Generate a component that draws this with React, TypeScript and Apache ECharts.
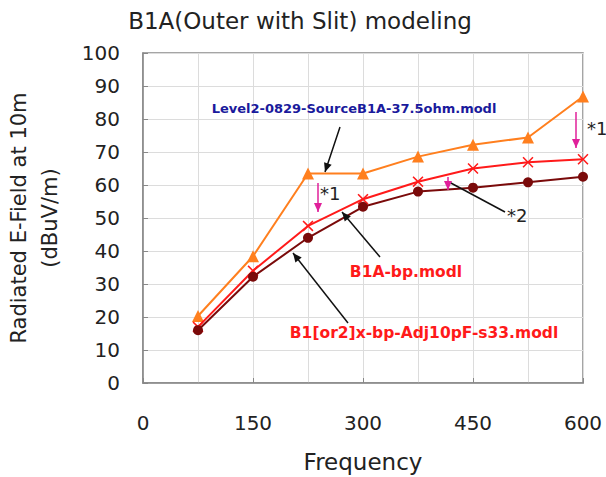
import React, { useEffect, useRef } from "react";
import * as echarts from "echarts";

const frequencies = [75, 150, 225, 300, 375, 450, 525, 600];
const level2Source = [20.3, 38.4, 63.5, 63.5, 68.6, 72.2, 74.4, 86.8];
const b1aBp = [17, 34, 47.6, 55.7, 61, 65, 66.9, 67.8];
const b1or2Adj = [16, 32.2, 44, 53.4, 58, 59.2, 60.8, 62.5];
const xTickLabels = ["0", "150", "300", "450", "600"];

const FONT = "DejaVu Sans";

function arrow(x1: number, y1: number, x2: number, y2: number, color: string, head = true) {
  const els: any[] = [
    {
      type: "line",
      shape: { x1, y1, x2, y2 },
      style: { stroke: color, lineWidth: 1.5 },
      silent: true,
      z: 10,
    },
  ];
  if (head) {
    const ang = Math.atan2(y2 - y1, x2 - x1);
    const L = 9;
    const W = 4;
    const bx = x2 - L * Math.cos(ang);
    const by = y2 - L * Math.sin(ang);
    const px = -Math.sin(ang) * W;
    const py = Math.cos(ang) * W;
    els.push({
      type: "polygon",
      shape: { points: [[x2, y2], [bx + px, by + py], [bx - px, by - py]] },
      style: { fill: color },
      silent: true,
      z: 10,
    });
  }
  return els;
}

const xSymbol = "path://M0,1 L1,0 L5,4 L9,0 L10,1 L6,5 L10,9 L9,10 L5,6 L1,10 L0,9 L4,5 Z";

export default function App() {
  const ref = useRef<HTMLDivElement>(null);
  useEffect(() => {
    if (!ref.current) return;
    const chart = echarts.init(ref.current, undefined, { renderer: "svg" });
    const mk = (arr: number[]) => frequencies.map((f, i) => [f, arr[i]]);
    const magenta = "#e0209a";
    const dark = "#222";
    const graphic: any[] = [
      {
        type: "text",
        x: 300,
        y: 21,
        style: { text: "B1A(Outer with Slit) modeling", font: `23px '${FONT}'`, fill: dark, align: "center", verticalAlign: "middle" },
      },
      {
        type: "text",
        x: 354,
        y: 108,
        style: { text: "Level2-0829-SourceB1A-37.5ohm.modl", font: `bold 13px '${FONT}'`, fill: "#1a1a9c", align: "center", verticalAlign: "middle" },
        z: 10,
      },
      {
        type: "text",
        x: 406,
        y: 272,
        style: { text: "B1A-bp.modl", font: `bold 15.5px '${FONT}'`, fill: "#ff1a1a", align: "center", verticalAlign: "middle" },
        z: 10,
      },
      {
        type: "text",
        x: 424,
        y: 333,
        style: { text: "B1[or2]x-bp-Adj10pF-s33.modl", font: `bold 15.5px '${FONT}'`, fill: "#ff1a1a", align: "center", verticalAlign: "middle" },
        z: 10,
      },
      {
        type: "text",
        x: 320,
        y: 193,
        style: { text: "*1", font: `18px '${FONT}'`, fill: dark, align: "left", verticalAlign: "middle" },
        z: 10,
      },
      {
        type: "text",
        x: 587,
        y: 128,
        style: { text: "*1", font: `18px '${FONT}'`, fill: dark, align: "left", verticalAlign: "middle" },
        z: 10,
      },
      {
        type: "text",
        x: 507,
        y: 215,
        style: { text: "*2", font: `18px '${FONT}'`, fill: dark, align: "left", verticalAlign: "middle" },
        z: 10,
      },
      ...arrow(340, 127, 325, 172, "#111"),
      ...arrow(380, 257, 342, 212, "#111"),
      ...arrow(348, 323, 293, 253, "#111"),
      ...arrow(505, 212, 449, 182, "#111", false),
      ...arrow(318, 183, 318, 212, magenta),
      ...arrow(576, 112, 576, 148, magenta),
      ...arrow(448, 177, 448, 190, magenta),
    ];
    chart.setOption({
      animation: false,
      backgroundColor: "#fff",
      grid: {
        left: 143,
        top: 53,
        right: 23,
        bottom: 94,
        show: true,
        borderColor: "#888",
        borderWidth: 1.5,
        containLabel: false,
        outerBoundsMode: "none",
      },
      xAxis: {
        type: "value",
        min: 0,
        max: 600,
        interval: 150,
        name: "Frequency",
        nameLocation: "middle",
        nameGap: 67,
        nameTextStyle: { fontFamily: FONT, fontSize: 23, color: dark, verticalAlign: "top" },
        axisLine: { show: true, lineStyle: { color: "#888", width: 1.5 } },
        axisTick: { show: true, inside: true, length: 5, lineStyle: { color: "#888" } },
        axisLabel: {
          margin: 30,
          fontFamily: FONT,
          fontSize: 20,
          color: dark,
          formatter: (v: number) => (xTickLabels.includes(String(v)) ? String(v) : ""),
        },
        splitLine: { show: true, lineStyle: { color: "#dcdcdc", width: 1 } },
        minorTick: { show: false, splitNumber: 2 },
        minorSplitLine: { show: true, lineStyle: { color: "#dcdcdc", width: 1 } },
      },
      yAxis: {
        type: "value",
        min: 0,
        max: 100,
        interval: 10,
        name: "Radiated E-Field at 10m\n(dBuV/m)",
        nameLocation: "middle",
        nameRotate: 90,
        nameGap: 78,
        nameTextStyle: { fontFamily: FONT, fontSize: 21, color: dark, lineHeight: 31, align: "center" },
        axisLine: { show: true, lineStyle: { color: "#888", width: 1.5 } },
        axisTick: { show: true, inside: true, length: 5, lineStyle: { color: "#888" } },
        axisLabel: { margin: 23, fontFamily: FONT, fontSize: 20, color: dark },
        splitLine: { show: true, lineStyle: { color: "#dcdcdc", width: 1 } },
      },
      series: [
        {
          name: "Level2-0829-SourceB1A-37.5ohm.modl",
          type: "line",
          data: mk(level2Source),
          symbol: "triangle",
          symbolSize: 12,
          lineStyle: { color: "#ff7f1e", width: 2 },
          itemStyle: { color: "#ff7f1e" },
          z: 3,
        },
        {
          name: "B1A-bp.modl",
          type: "line",
          data: mk(b1aBp),
          symbol: xSymbol,
          symbolSize: 11,
          lineStyle: { color: "#ff1a1a", width: 2 },
          itemStyle: { color: "#ff1a1a" },
          z: 4,
        },
        {
          name: "B1[or2]x-bp-Adj10pF-s33.modl",
          type: "line",
          data: mk(b1or2Adj),
          symbol: "circle",
          symbolSize: 10,
          lineStyle: { color: "#7a0a0a", width: 2 },
          itemStyle: { color: "#7a0a0a" },
          z: 5,
        },
      ],
      graphic,
    });
    return () => chart.dispose();
  }, []);
  return (
    <div
      ref={ref}
      style={{ position: "fixed", left: 0, top: 0, width: 606, height: 477, background: "#fff" }}
    />
  );
}
